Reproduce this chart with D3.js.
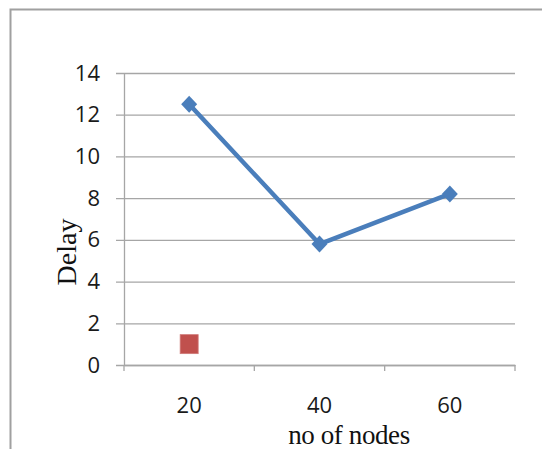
<!DOCTYPE html>
<html>
<head>
<meta charset="utf-8">
<script src="https://cdn.jsdelivr.net/npm/d3@7"></script>
<style>
  body { margin: 0; background: #fff; }
  svg { display: block; }
</style>
</head>
<body>
<svg id="chart" width="542" height="449"></svg>
<script>
// data
const nodes = ["20", "40", "60"];
const delaySeries = [12.5, 5.8, 8.2];
const otherNodes = ["20"];
const otherSeries = [1.0];
const yTicks = [0, 2, 4, 6, 8, 10, 12, 14];

const svg = d3.select("#chart");
const plotL = 124, plotR = 515, plotT = 73, plotB = 365;
const gridCol = "#a6a6a6";

// outer chart border (cropped at right / bottom)
svg.append("rect")
  .attr("x", 10.5).attr("y", 9.5)
  .attr("width", 560).attr("height", 460)
  .attr("fill", "none")
  .attr("stroke", "#a0a0a0")
  .attr("stroke-width", 2);

const x = d3.scaleBand().domain(nodes).range([plotL, plotR]);
const y = d3.scaleLinear().domain([0, 14]).range([plotB, plotT]);

// y axis + gridlines
const gy = svg.append("g")
  .attr("transform", "translate(" + plotL + ",0)")
  .call(d3.axisLeft(y).tickValues(yTicks).tickSize(-(plotR - plotL)).tickSizeOuter(0).tickPadding(24));
gy.select(".domain").attr("stroke", gridCol).attr("stroke-width", 1.3);
gy.selectAll(".tick line").attr("x1", -8).attr("stroke", gridCol).attr("stroke-width", 1.3);
gy.selectAll(".tick text")
  .attr("font-family", "'Open Sans', sans-serif")
  .attr("font-size", 22)
  .attr("fill", "#1a1a1a");

// x axis
const gx = svg.append("g")
  .attr("transform", "translate(0," + plotB + ")")
  .call(d3.axisBottom(x).tickSize(0).tickSizeOuter(0));
gx.select(".domain").attr("stroke", gridCol).attr("stroke-width", 1.3);
gx.selectAll(".tick text")
  .attr("dy", null)
  .attr("y", 48)
  .attr("font-family", "'Open Sans', sans-serif")
  .attr("font-size", 22)
  .attr("fill", "#1a1a1a");

// category boundary ticks
const edges = nodes.map(d => x(d)).concat([x(nodes[nodes.length - 1]) + x.bandwidth()]);
svg.append("g").selectAll("line").data(edges).join("line")
  .attr("x1", d => d).attr("x2", d => d)
  .attr("y1", plotB).attr("y2", plotB + 6)
  .attr("stroke", gridCol).attr("stroke-width", 1.3);

// axis titles
svg.append("text")
  .attr("transform", "translate(76,252) rotate(-90)")
  .attr("text-anchor", "middle")
  .attr("font-family", "'Liberation Serif', serif")
  .attr("font-size", 28)
  .attr("fill", "#111")
  .text("Delay");

svg.append("text")
  .attr("x", 349).attr("y", 444)
  .attr("text-anchor", "middle")
  .attr("font-family", "'Liberation Serif', serif")
  .attr("font-size", 27)
  .attr("letter-spacing", -0.4)
  .attr("fill", "#111")
  .text("no of nodes");

const cx = d => x(d) + x.bandwidth() / 2;
const blue = "#4a7ebb";

// delay line
const pts = nodes.map((d, i) => [cx(d), y(delaySeries[i])]);
svg.append("path")
  .attr("d", d3.line()(pts))
  .attr("fill", "none")
  .attr("stroke", blue)
  .attr("stroke-width", 4.5)
  .attr("stroke-linejoin", "round");

svg.append("g").selectAll("path").data(pts).join("path")
  .attr("transform", d => "translate(" + d[0] + "," + d[1] + ")")
  .attr("d", "M0,-8.5L8,0L0,8.5L-8,0Z")
  .attr("fill", blue);

// second series: single square
svg.append("g").selectAll("rect").data(otherSeries).join("rect")
  .attr("x", (d, i) => cx(otherNodes[i]) - 9)
  .attr("y", d => y(d) - 9.5)
  .attr("width", 18).attr("height", 19)
  .attr("fill", "#c0504d")
  .attr("stroke", "#d07a78")
  .attr("stroke-width", 0.8);
</script>
</body>
</html>
